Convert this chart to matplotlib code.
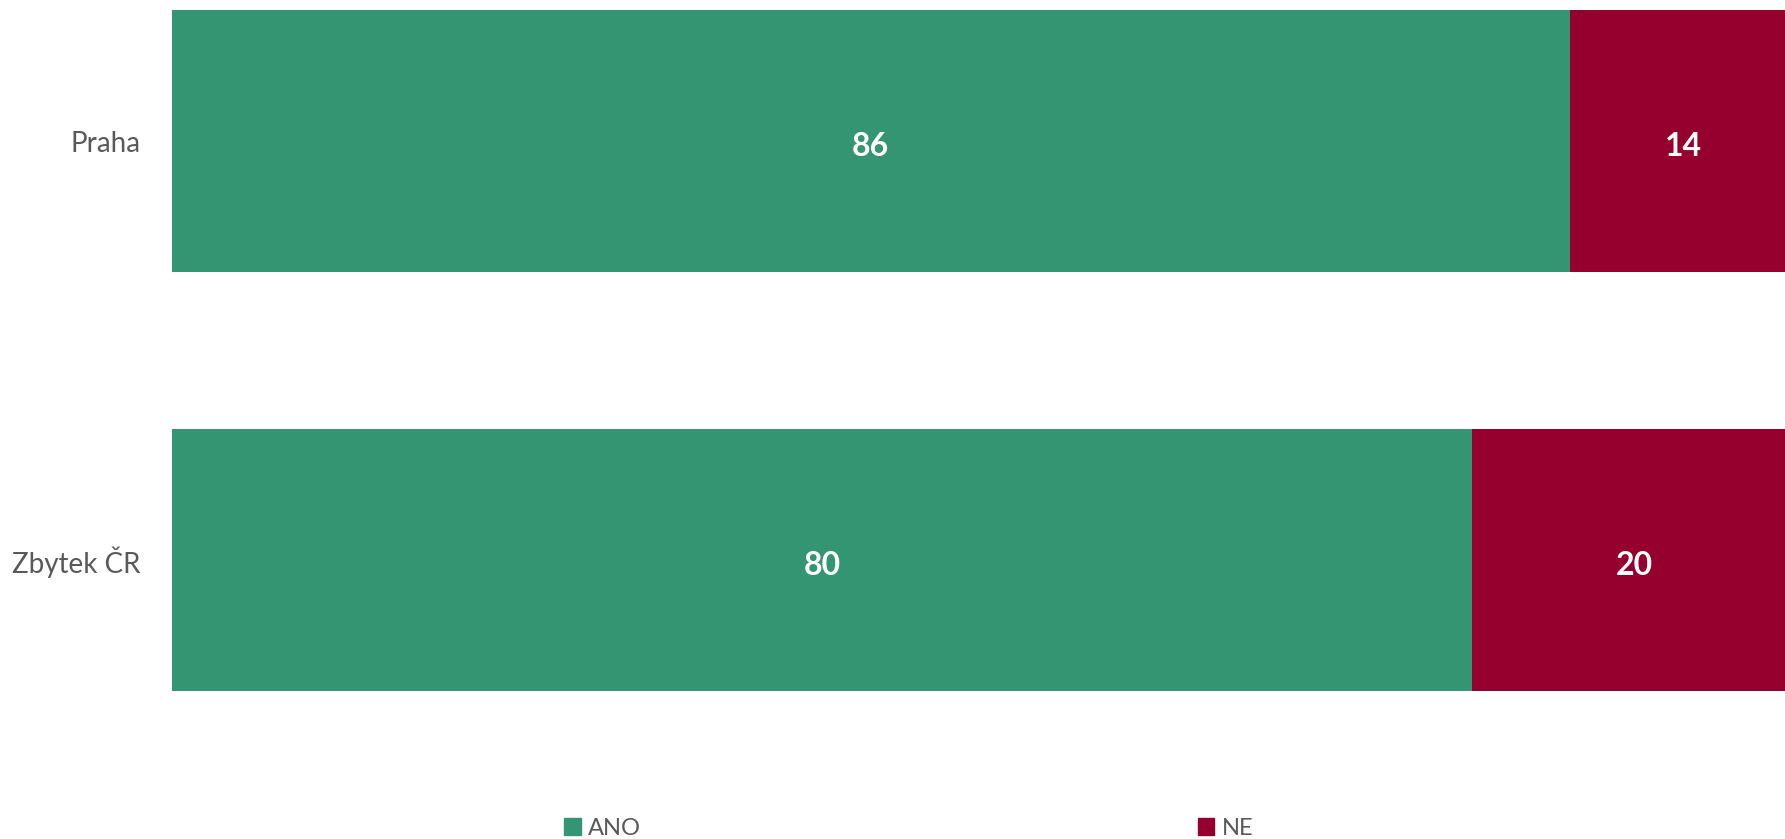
import matplotlib.pyplot as plt
from matplotlib.patches import Patch

categories = ["Praha", "Zbytek ČR"]
ano = [86, 80]
ne = [14, 20]
series_names = ["ANO", "NE"]

green = "#339571"
red = "#95002F"

plt.rcParams['font.family'] = ['Lato', 'DejaVu Sans']

fig = plt.figure(figsize=(17.85, 8.39), dpi=100)
ax = fig.add_axes([172 / 1785, 139 / 839, 1625 / 1785, 700 / 839])

ypos = list(range(len(categories)))
ax.barh(ypos, ano, height=0.625, color=green)
ax.barh(ypos, ne, left=ano, height=0.625, color=red)

# value labels, nudged down a little to sit like the original
for y, a, n in zip(ypos, ano, ne):
    ax.text(a / 2, y + 0.012, str(a), ha='center', va='center', color='white',
            fontsize=23, fontweight='bold')
    ax.text(a + n / 2, y + 0.012, str(n), ha='center', va='center', color='white',
            fontsize=23, fontweight='bold')

ax.set_xlim(0, 100)
ax.set_ylim(1.334, -0.3365)
ax.set_yticks(ypos)
ax.set_yticklabels(categories, fontsize=20, color='#595959')
ax.tick_params(axis='y', length=0, pad=23)
ax.set_xticks([])
for s in ax.spines.values():
    s.set_visible(False)

handles = [Patch(color=green), Patch(color=red)]
fig.legend(handles, series_names, loc='center', bbox_to_anchor=(0.509, 0.013),
           ncol=2, frameon=False, fontsize=17, handlelength=0.7, handleheight=0.7,
           handletextpad=0.3, columnspacing=23.6, labelcolor='#595959')

fig.savefig("out.png", dpi=100)
